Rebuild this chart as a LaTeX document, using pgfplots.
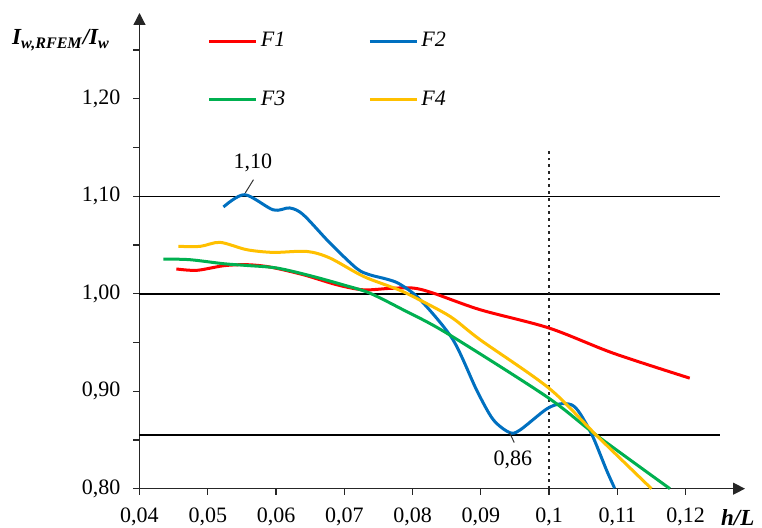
\documentclass[border=0pt]{standalone}
\usepackage{fontspec}
\setmainfont{Liberation Serif}
\usepackage{pgfplots}
\pgfplotsset{compat=1.18}
\usetikzlibrary{arrows.meta}
\definecolor{cF1}{RGB}{255,0,0}
\definecolor{cF2}{RGB}{0,112,192}
\definecolor{cF3}{RGB}{0,176,80}
\definecolor{cF4}{RGB}{255,192,0}
\begin{document}
\begin{tikzpicture}[font=\fontsize{11}{13}\selectfont]
\begin{axis}[
  scale only axis,
  width=302.75pt, height=237.85pt,
  xmin=0.04, xmax=0.1287, ymin=0.8, ymax=1.288,
  axis lines=left,
  axis line style={line width=0.6pt, black!85, -{Triangle[length=6pt,width=6pt]}},
  tick align=outside,
  major tick length=3pt, minor tick length=3pt,
  tick style={black!85, line width=0.6pt},
  xtick={0.04,0.05,0.06,0.07,0.08,0.09,0.1,0.11,0.12},
  xticklabels={{0,04},{0,05},{0,06},{0,07},{0,08},{0,09},{0,1},{0,11},{0,12}},
  ytick={0.8,0.9,1.0,1.1,1.2},
  minor ytick={0.85,0.95,1.05,1.15,1.25},
  yticklabel style={xshift=-3pt, /pgf/number format/.cd, fixed, fixed zerofill, precision=2, use comma, assume math mode=true},
  xticklabel style={yshift=-3pt},
  clip=false,
  xlabel={\bfseries\itshape h/L},
  xlabel style={at={(rel axis cs:0.988,-0.06)}, anchor=center, font=\fontsize{11.5}{13}\selectfont},
  ylabel={\bfseries\itshape I\textsubscript{w,RFEM}/I\textsubscript{w}},
  ylabel style={at={(rel axis cs:-0.1296,0.943)}, rotate=-90, anchor=center, font=\fontsize{11.5}{13}\selectfont},
  legend columns=2,
  legend style={draw=none, fill=none, at={(rel axis cs:0.1131,0.9655)}, anchor=north west,
    inner sep=0pt, outer sep=0pt, row sep=17.5pt, font=\itshape\fontsize{11}{13}\selectfont,
    nodes={inner sep=1.5pt}, /tikz/every even column/.append style={column sep=40pt}},
  legend cell align=left,
  legend image code/.code={\draw[#1, line width=1.5pt] (0pt,0pt) -- (23.5pt,0pt);},
]
\coordinate (bl) at (rel axis cs:0,0);
\coordinate (tr) at (rel axis cs:1,1);
% reference lines
\addplot[forget plot, black, line width=0.6pt] coordinates {(0.04,1.1) (0.125,1.1)};
\addplot[forget plot, black, line width=1.2pt] coordinates {(0.04,1.0) (0.125,1.0)};
\addplot[forget plot, black, line width=0.6pt] coordinates {(0.04,0.855) (0.125,0.855)};
\addplot[forget plot, black!85, line width=1.35pt, dash pattern=on 1.35pt off 2pt] coordinates {(0.1,0.8) (0.1,1.15)};
% data
\addplot[cF1, line width=1.5pt, smooth] coordinates {
(0.0454,1.0254) (0.0484,1.024) (0.0523,1.0287) (0.0557,1.0298) (0.0591,1.0274)
(0.064,1.0195) (0.0689,1.0092) (0.0728,1.004) (0.0767,1.0055) (0.0801,1.0058)
(0.083,1.0007) (0.0899,0.9836) (0.1,0.9648) (0.1094,0.939) (0.1206,0.9134)};
\addlegendentry{F1}
\addplot[cF2, line width=1.5pt, smooth] coordinates {
(0.0523,1.089) (0.0554,1.1016) (0.0596,1.086) (0.062,1.088) (0.064,1.081)
(0.0679,1.052) (0.0718,1.026) (0.0737,1.0195) (0.0762,1.015) (0.0781,1.010)
(0.0811,0.994) (0.0859,0.953) (0.0894,0.901) (0.0918,0.871) (0.0942,0.8576)
(0.0957,0.860) (0.0996,0.8816) (0.1016,0.887) (0.1033,0.886) (0.1045,0.8775)
(0.1064,0.8535) (0.1084,0.8193) (0.1096,0.8005)};
\addlegendentry{F2}
\addplot[cF3, line width=1.5pt, smooth] coordinates {
(0.0435,1.0356) (0.0474,1.0349) (0.0523,1.0308) (0.0557,1.029) (0.0601,1.0264)
(0.065,1.0185) (0.0698,1.0092) (0.0737,1.0007) (0.0786,0.9836) (0.085,0.9596)
(0.0996,0.8946) (0.1069,0.855) (0.1177,0.80)};
\addlegendentry{F3}
\addplot[cF4, line width=1.5pt, smooth] coordinates {
(0.0457,1.0486) (0.0489,1.0486) (0.0518,1.0527) (0.0557,1.0452) (0.0596,1.0424)
(0.0645,1.0434) (0.0679,1.0366) (0.0728,1.0178) (0.0777,1.0048) (0.0801,0.997)
(0.0855,0.9767) (0.0899,0.9528) (0.1,0.903) (0.1069,0.855) (0.115,0.80)};
\addlegendentry{F4}
% annotations
\node at (axis cs:0.0566,1.1345) {1,10};
\draw[black!80, line width=0.5pt] (axis cs:0.0567,1.117) -- (axis cs:0.0555,1.1035);
\node at (axis cs:0.0947,0.8296) {0,86};
\draw[black!80, line width=0.5pt] (axis cs:0.0942,0.8576) -- (axis cs:0.0949,0.8473);
\end{axis}
\pgfresetboundingbox
\path ([shift={(-69.75pt,-19.65pt)}]bl) rectangle ([shift={(8.5pt,6.5pt)}]tr);
\end{tikzpicture}
\end{document}
